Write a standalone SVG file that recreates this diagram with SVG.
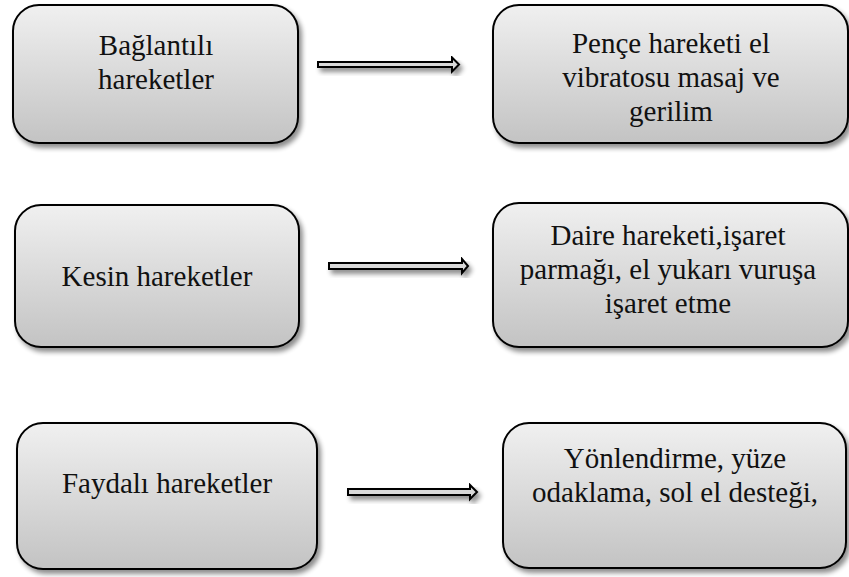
<svg xmlns="http://www.w3.org/2000/svg" width="849" height="577" viewBox="0 0 849 577">
<defs>
<linearGradient id="boxGrad" x1="0" y1="0" x2="0" y2="1">
<stop offset="0" stop-color="#f0f0f0"/>
<stop offset="1" stop-color="#c3c3c3"/>
</linearGradient>
<filter id="shadow" x="-10%" y="-10%" width="130%" height="140%">
<feGaussianBlur in="SourceAlpha" stdDeviation="2.5"/>
<feOffset dx="3" dy="4" result="b"/>
<feComponentTransfer><feFuncA type="linear" slope="0.45"/></feComponentTransfer>
<feMerge><feMergeNode/><feMergeNode in="SourceGraphic"/></feMerge>
</filter>
</defs>
<style>
.box{fill:url(#boxGrad);stroke:#000;stroke-width:2;filter:url(#shadow)}
.lbl{font-family:"Liberation Serif","Times New Roman",serif;font-size:29px;fill:#111;text-anchor:middle}
.arr{fill:#d9d9d9;stroke:#000;stroke-width:2;stroke-linejoin:miter;filter:url(#shadow)}
</style>
<rect width="849" height="577" fill="#fff"/>
<g id="connectors">
<path class="arr" d="M318,62 H452 V57.5 L459,64.5 L452,71.5 V67 H318 Z"/>
<path class="arr" d="M329,263 H462 V259 L468,266 L462,273 V269 H329 Z"/>
<path class="arr" d="M348,489 H470 V485 L477,492 L470,499 V495 H348 Z"/>
</g>
<g id="node1">
<rect class="box" x="13" y="5" width="285" height="138" rx="26"/>
<text class="lbl" x="156" y="55">Bağlantılı</text>
<text class="lbl" x="156" y="89">hareketler</text>
</g>
<g id="node2">
<rect class="box" x="493" y="5" width="355" height="138" rx="26"/>
<text class="lbl" x="671" y="53">Pençe hareketi el</text>
<text class="lbl" x="671" y="87">vibratosu masaj ve</text>
<text class="lbl" x="671" y="121">gerilim</text>
</g>
<g id="node3">
<rect class="box" x="15" y="205" width="284" height="142" rx="26"/>
<text class="lbl" x="157" y="286">Kesin hareketler</text>
</g>
<g id="node4">
<rect class="box" x="493" y="203" width="355" height="144" rx="26"/>
<text class="lbl" x="668" y="245">Daire hareketi,işaret</text>
<text class="lbl" x="668" y="279">parmağı, el yukarı vuruşa</text>
<text class="lbl" x="668" y="313">işaret etme</text>
</g>
<g id="node5">
<rect class="box" x="17" y="423" width="300" height="146" rx="26"/>
<text class="lbl" x="167" y="493">Faydalı hareketler</text>
</g>
<g id="node6">
<rect class="box" x="503" y="423" width="343" height="145" rx="26"/>
<text class="lbl" x="675" y="468">Yönlendirme, yüze</text>
<text class="lbl" x="675" y="502">odaklama, sol el desteği,</text>
</g>
</svg>
